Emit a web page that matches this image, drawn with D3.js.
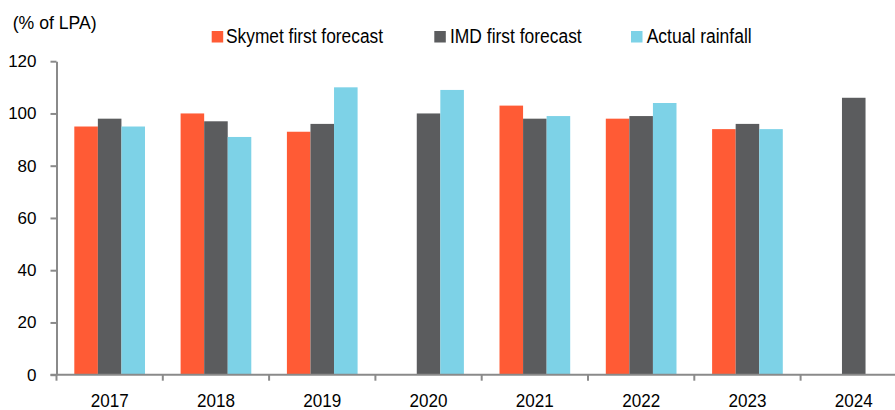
<!DOCTYPE html>
<html>
<head>
<meta charset="utf-8">
<script src="https://cdn.jsdelivr.net/npm/d3@7"></script>
<style>
  html, body { margin: 0; padding: 0; background: #fff; }
  svg { display: block; font-family: "Liberation Sans", Arial, sans-serif; }
</style>
</head>
<body>
<svg id="chart" width="895" height="410"></svg>
<script>
const categories = ["2017", "2018", "2019", "2020", "2021", "2022", "2023", "2024"];
const seriesNames = ["Skymet first forecast", "IMD first forecast", "Actual rainfall"];
const skymet = [95, 100, 93, null, 103, 98, 94, null];
const imd = [98, 97, 96, 100, 98, 99, 96, 106];
const actual = [95, 91, 110, 109, 99, 104, 94, null];
const colors = ["#FF5B35", "#5B5C5E", "#7DD2E7"];
const yTicks = [0, 20, 40, 60, 80, 100, 120];
const yLabel = "(% of LPA)";

const seriesValues = [skymet, imd, actual];

const svg = d3.select("#chart");
const x0 = 56.5, y0 = 374.7, yTop = 61.2;
const step = 106.3;

const x = d3.scaleBand()
  .domain(categories)
  .range([x0, x0 + step * categories.length])
  .paddingInner(0.335)
  .paddingOuter(0.1675);

const xs = d3.scaleBand()
  .domain(seriesNames)
  .range([0, x.bandwidth()]);

const y = d3.scaleLinear().domain([0, 120]).range([y0, yTop]);

// bars
seriesNames.forEach((name, si) => {
  const data = categories.map((c, i) => ({ c, v: seriesValues[si][i] })).filter(d => d.v != null);
  svg.append("g").selectAll("rect").data(data).enter().append("rect")
    .attr("x", d => x(d.c) + xs(name))
    .attr("y", d => y(d.v))
    .attr("width", xs.bandwidth())
    .attr("height", d => y(0) - y(d.v))
    .attr("fill", colors[si]);
});

const axisColor = "#8A8A8A";

// y axis
const yAxis = d3.axisLeft(y).tickValues(yTicks).tickSize(6).tickPadding(14).tickSizeOuter(0);
const gy = svg.append("g").attr("transform", `translate(${x0},0)`).call(yAxis);
gy.select(".domain").attr("stroke", axisColor).attr("stroke-width", 2);
gy.selectAll(".tick line").attr("stroke", axisColor).attr("stroke-width", 2);
gy.selectAll(".tick text")
  .attr("fill", "#000")
  .style("font-size", "17px")
  .style("font-family", "'Liberation Sans', Arial, sans-serif");

// x axis line
svg.append("line")
  .attr("x1", x0 - 6).attr("x2", 895)
  .attr("y1", y0).attr("y2", y0)
  .attr("stroke", axisColor).attr("stroke-width", 2);

// x boundary ticks
const boundaries = categories.map(c => x(c) - x.step() * x.paddingOuter());
svg.append("g").selectAll("line").data(boundaries).enter().append("line")
  .attr("x1", d => d).attr("x2", d => d)
  .attr("y1", y0).attr("y2", y0 + 6)
  .attr("stroke", axisColor).attr("stroke-width", 2);

// x labels
svg.append("g").selectAll("text").data(categories).enter().append("text")
  .attr("x", d => x(d) + x.bandwidth() / 2)
  .attr("y", 406.5)
  .attr("text-anchor", "middle")
  .attr("textLength", 38)
  .attr("lengthAdjust", "spacingAndGlyphs")
  .style("font-size", "18.5px")
  .attr("fill", "#000")
  .text(d => d);

// y label
svg.append("text")
  .attr("x", 12.7).attr("y", 29)
  .attr("textLength", 84)
  .attr("lengthAdjust", "spacingAndGlyphs")
  .style("font-size", "19px")
  .attr("fill", "#000")
  .text(yLabel);

// legend
const legendSquareX = [211.7, 434.3, 631];
const legendTextX = [226, 450, 646.7];
const legendTextLen = [157, 131.7, 105];
seriesNames.forEach((name, i) => {
  svg.append("rect")
    .attr("x", legendSquareX[i]).attr("y", 31)
    .attr("width", 11.5).attr("height", 11.5)
    .attr("fill", colors[i]);
  svg.append("text")
    .attr("x", legendTextX[i]).attr("y", 42.6)
    .attr("textLength", legendTextLen[i])
    .attr("lengthAdjust", "spacingAndGlyphs")
    .style("font-size", "19.5px")
    .attr("fill", "#000")
    .text(name);
});
</script>
</body>
</html>
